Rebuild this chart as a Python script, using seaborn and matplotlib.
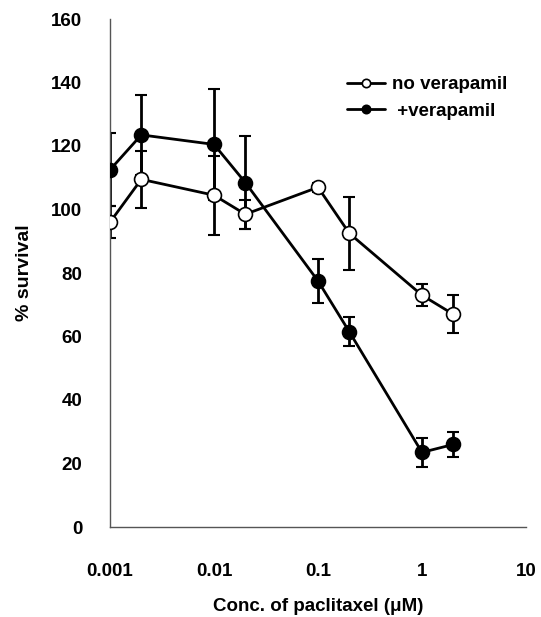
import numpy as np
import pandas as pd
import matplotlib
matplotlib.use("Agg")
import matplotlib.pyplot as plt
import seaborn as sns

conc = [0.001, 0.002, 0.01, 0.02, 0.1, 0.2, 1, 2]
no_verapamil = [96, 109.5, 104.5, 98.5, 107, 92.5, 73, 67]
no_verapamil_err = [5, 9, 12.5, 4.5, 1.5, 11.5, 3.5, 6]
plus_verapamil = [112.5, 123.5, 120.5, 108.5, 77.5, 61.5, 23.5, 26]
plus_verapamil_err = [11.5, 12.5, 17.5, 14.5, 7, 4.5, 4.5, 4]
series_names = ["no verapamil", " +verapamil"]
xtick_labels = ["0.001", "0.01", "0.1", "1", "10"]
ytick_values = [0, 20, 40, 60, 80, 100, 120, 140, 160]

sns.set_style("white")
plt.rcParams["font.family"] = ["Liberation Sans", "DejaVu Sans"]
plt.rcParams["font.weight"] = "bold"
plt.rcParams["text.color"] = "black"
plt.rcParams["axes.labelcolor"] = "black"

fig = plt.figure(figsize=(5.41, 6.17), dpi=100)
ax = fig.add_axes([110/541, (617-527)/617, (526-110)/541, (527-19)/617])

df = pd.concat([
    pd.DataFrame({"conc": conc, "val": no_verapamil, "err": no_verapamil_err, "series": series_names[0]}),
    pd.DataFrame({"conc": conc, "val": plus_verapamil, "err": plus_verapamil_err, "series": series_names[1]}),
])

faces = {series_names[0]: "white", series_names[1]: "black"}
for name in series_names:
    sub = df[df["series"] == name]
    ax.errorbar(sub["conc"], sub["val"], yerr=sub["err"], fmt="none",
                ecolor="black", elinewidth=2, capsize=4, capthick=1.5, zorder=2)
    sns.lineplot(data=sub, x="conc", y="val", ax=ax, color="black", lw=2,
                 marker="o", markersize=10, markerfacecolor=faces[name],
                 markeredgecolor="black", markeredgewidth=1.2, label=name,
                 zorder=3, errorbar=None)

ax.set_xscale("log")
ax.set_xlim(0.001, 10)
ax.set_ylim(0, 160)
ax.set_xticks([0.001, 0.01, 0.1, 1, 10])
ax.set_xticklabels(xtick_labels)
ax.xaxis.set_minor_locator(matplotlib.ticker.NullLocator())
ax.set_yticks(ytick_values)
ax.set_yticklabels([str(v) for v in ytick_values])

for s in ["top", "right"]:
    ax.spines[s].set_visible(False)
for s in ["left", "bottom"]:
    ax.spines[s].set_color("#555555")
    ax.spines[s].set_linewidth(1)
ax.tick_params(axis="both", which="major", direction="out", length=6, width=1,
               color="#555555", labelsize=13.5, labelcolor="black")
ax.tick_params(axis="y", pad=14)
ax.tick_params(axis="x", pad=20)
for lab in ax.get_xticklabels() + ax.get_yticklabels():
    lab.set_fontweight("bold")

ax.set_xlabel("Conc. of paclitaxel (μM)", fontsize=13.5, fontweight="bold", labelpad=13)
ax.set_ylabel("% survival", fontsize=14, fontweight="bold", labelpad=13)

leg = ax.legend(loc="center left", bbox_to_anchor=((347-110)/416, (527-98)/508),
                frameon=False, fontsize=13.5, handlelength=2.0, handletextpad=0.4,
                labelspacing=0.5, markerscale=0.6, borderpad=0, borderaxespad=0)
for t in leg.get_texts():
    t.set_fontweight("bold")

fig.savefig("out.png", dpi=100)
